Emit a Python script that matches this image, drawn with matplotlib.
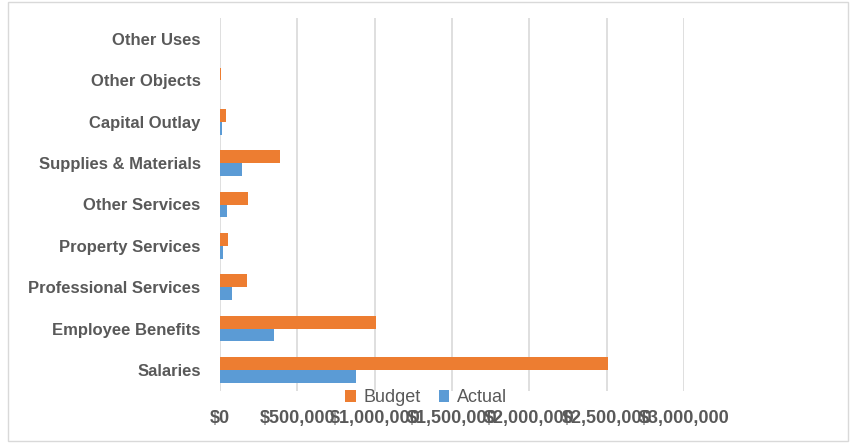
import numpy as np
import matplotlib
matplotlib.use("Agg")
import matplotlib.pyplot as plt
from matplotlib.patches import Rectangle
from matplotlib.ticker import FuncFormatter

plt.rcParams['font.family'] = ['Liberation Sans', 'DejaVu Sans']

# Datos
categories = ['Salaries', 'Employee Benefits', 'Professional Services', 'Property Services',
              'Other Services', 'Supplies & Materials', 'Capital Outlay', 'Other Objects', 'Other Uses']
budget = [2508000, 1007000, 176000, 52000, 178000, 386000, 37000, 5000, 0]
actual = [882000, 350000, 78000, 19000, 44000, 144000, 15000, 3000, 0]
xticks = [0, 500000, 1000000, 1500000, 2000000, 2500000, 3000000]

orange = '#ED7D31'
blue = '#5B9BD5'
gray_txt = '#595959'

fig = plt.figure(figsize=(8.57, 4.43), dpi=100)
ax = fig.add_axes([220 / 857, 1 - 390.7 / 443, 464 / 857, 372.4 / 443])

y = np.arange(len(categories))
h = 0.31
ax.barh(y + h / 2, budget, height=h, color=orange, label='Budget', zorder=3)
ax.barh(y - h / 2, actual, height=h, color=blue, label='Actual', zorder=3)

ax.set_xlim(0, 3000000)
ax.set_ylim(-0.5, len(categories) - 0.5)
ax.set_xticks(xticks)
ax.xaxis.set_major_formatter(FuncFormatter(lambda v, p: f"${v:,.0f}"))
ax.set_yticks(y)
ax.set_yticklabels(categories)
ax.grid(axis='x', color='#D9D9D9', linewidth=1.2, zorder=0)
for s in ax.spines.values():
    s.set_visible(False)
ax.tick_params(axis='both', length=0, colors=gray_txt)
ax.tick_params(axis='x', pad=14, labelsize=13)
ax.tick_params(axis='y', pad=14, labelsize=12)
for lbl in ax.get_xticklabels() + ax.get_yticklabels():
    lbl.set_fontweight('bold')
    lbl.set_color(gray_txt)

ax.legend(loc='center', bbox_to_anchor=(0.444, -0.0196), ncol=2, frameon=False,
          fontsize=13, handlelength=0.6, handleheight=0.6, columnspacing=1.0,
          handletextpad=0.4, labelcolor=gray_txt, borderpad=0)

# marco del gráfico
fig.patches.append(Rectangle((8 / 857, 2 / 443), 840 / 857, 439 / 443, transform=fig.transFigure,
                             fill=False, edgecolor='#D9D9D9', linewidth=1))

fig.savefig('out.png', dpi=100)
